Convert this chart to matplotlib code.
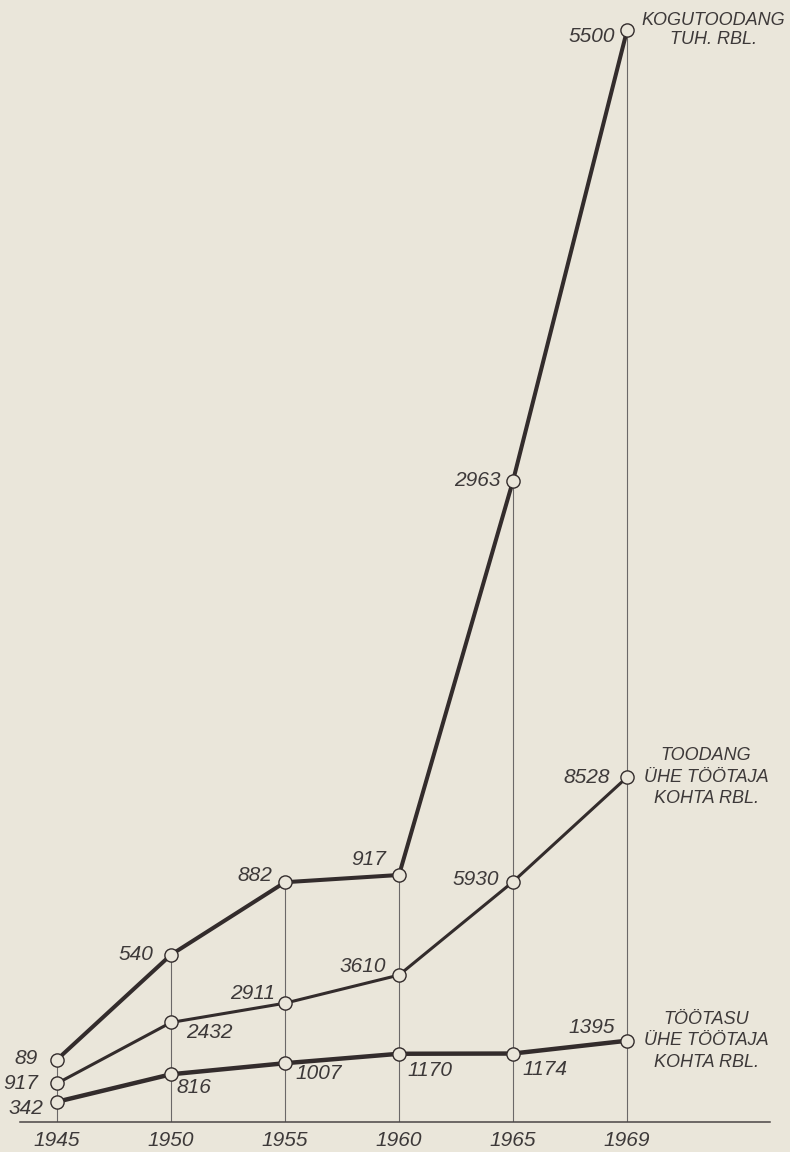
import numpy as np
import matplotlib.pyplot as plt

# Data
years = ["1945", "1950", "1955", "1960", "1965", "1969"]
gross_output = [89, 540, 882, 917, 2963, 5500]          # kogutoodang, tuh. rbl
output_per_worker = [917, 2432, 2911, 3610, 5930, 8528]  # toodang ühe töötaja kohta, rbl
wage_per_worker = [342, 816, 1007, 1170, 1174, 1395]     # töötasu ühe töötaja kohta, rbl

series_titles = [
    "KOGUTOODANG\nTUH. RBL.",
    "TOODANG\nÜHE TÖÖTAJA\nKOHTA RBL.",
    "TÖÖTASU\nÜHE TÖÖTAJA\nKOHTA RBL.",
]

# label offsets in pixels from each point (dx, dy, ha)
gross_offsets = [(-19, 1, "right"), (-18, 0, "right"), (-13, 7, "right"),
                 (-13, 15, "right"), (-12, 0, "right"), (-12, -6, "right")]
perworker_offsets = [(-19, 0, "right"), (15, -10, "left"), (-10, 10, "right"),
                     (-13, 9, "right"), (-14, 2, "right"), (-17, 0, "right")]
wage_offsets = [(-14, -7, "right"), (5, -13, "left"), (10, -10, "left"),
                (8, -17, "left"), (9, -16, "left"), (-12, 13, "right")]

PAPER = "#eae6da"
INK = "#332c2c"
TEXT = "#3d3939"
GUIDE = "#6b6868"
FONT = "Liberation Sans"

plt.rcParams["font.family"] = [FONT, "DejaVu Sans"]

W, H = 790, 1152
fig = plt.figure(figsize=(W / 100, H / 100), dpi=100, facecolor=PAPER)
base_y = 1121.7
ax1 = fig.add_axes([20 / W, 1 - base_y / H, 750 / W, base_y / H])
ax1.set_facecolor(PAPER)
ax2 = ax1.twinx()
ax3 = ax1.twinx()

x = np.arange(len(years))
ax1.set_xlim(-0.3246, 6.254)

# the original drawing is not to a common scale: every series has its own,
# and the gross output one is slightly compressed towards the top
k = 0.9
fwd = lambda v: np.sign(v) * np.abs(v) ** k
inv = lambda u: np.sign(u) * np.abs(u) ** (1 / k)
ax1.set_yscale("function", functions=(fwd, inv))
ax1.set_ylim(-inv(79.98), inv(2391.3))
ax2.set_ylim(-34.8, 27847)
ax3.set_ylim(-1.7, 19345)

for a in (ax1, ax2, ax3):
    for s in a.spines.values():
        s.set_visible(False)
    a.set_yticks([])
    a.tick_params(axis="y", length=0)

ax1.spines["bottom"].set_visible(True)
ax1.spines["bottom"].set_color("#4a4545")
ax1.spines["bottom"].set_linewidth(1.1)
ax1.set_xticks(x, years)
ax1.tick_params(axis="x", length=0, pad=7, labelsize=15, labelcolor=TEXT)
for lbl in ax1.get_xticklabels():
    lbl.set_fontstyle("italic")

# thin guides from the axis up to the top point
ax1.vlines(x, ax1.get_ylim()[0], gross_output, color=GUIDE, lw=0.8, zorder=1)

mk = dict(marker="o", ms=9.5, mfc=PAPER, mec=INK, mew=1.0, color=INK,
          solid_capstyle="round", zorder=3)
ax1.plot(x, gross_output, lw=2.9, **mk)
ax2.plot(x, output_per_worker, lw=2.2, **mk)
ax3.plot(x, wage_per_worker, lw=3.2, **mk)

def label_points(a, vals, offsets):
    for xi, v, (dx, dy, ha) in zip(x, vals, offsets):
        a.annotate(str(v), (xi, v), xytext=(dx, dy), textcoords="offset pixels",
                   ha=ha, va="center", fontsize=15, fontstyle="italic",
                   color=TEXT, zorder=4)

label_points(ax1, gross_output, gross_offsets)
label_points(ax2, output_per_worker, perworker_offsets)
label_points(ax3, wage_per_worker, wage_offsets)

# series names to the right of the last point
last = x[-1]
ax1.annotate(series_titles[0], (last, gross_output[-1]), xytext=(86, 0),
             textcoords="offset pixels", ha="center", va="center",
             fontsize=13, fontstyle="italic", color=TEXT, linespacing=1.15)
ax2.annotate(series_titles[1], (last, output_per_worker[-1]), xytext=(79, 0),
             textcoords="offset pixels", ha="center", va="center",
             fontsize=13, fontstyle="italic", color=TEXT, linespacing=1.35)
ax3.annotate(series_titles[2], (last, wage_per_worker[-1]), xytext=(79, 0),
             textcoords="offset pixels", ha="center", va="center",
             fontsize=13, fontstyle="italic", color=TEXT, linespacing=1.35)

fig.savefig("out.png", dpi=100, facecolor=PAPER)
